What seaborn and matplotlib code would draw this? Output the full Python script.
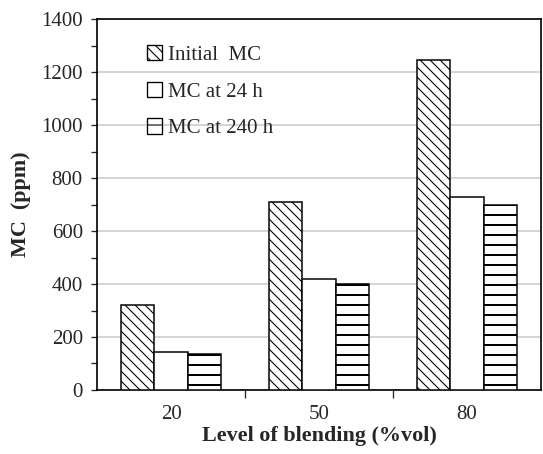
import matplotlib
matplotlib.use("Agg")
import matplotlib.pyplot as plt
from matplotlib.patches import Patch
from matplotlib.ticker import MultipleLocator, FixedLocator
import seaborn as sns
import pandas as pd

blending = ["20", "50", "80"]
initial_mc = [320, 710, 1245]
mc_24h = [145, 420, 730]
mc_240h = [135, 400, 700]
series = ["Initial  MC", "MC at 24 h", "MC at 240 h"]

df = pd.DataFrame({
    "blend": blending * 3,
    "mc": initial_mc + mc_24h + mc_240h,
    "series": [series[0]] * 3 + [series[1]] * 3 + [series[2]] * 3,
})

sns.set_style("white")
plt.rcParams["font.family"] = ["Liberation Serif", "DejaVu Serif"]
plt.rcParams["hatch.linewidth"] = 0.65

# dpi 120 so the hatch spacing comes out close to the original
DPI = 120
fig = plt.figure(figsize=(543 / DPI, 454 / DPI), dpi=DPI)
ax = fig.add_axes([0.1786, 0.141, 0.818, 0.817])

sns.barplot(data=df, x="blend", y="mc", hue="series", order=blending,
            hue_order=series, palette=["white"] * 3, edgecolor="black",
            linewidth=0.9, width=0.68, legend=False, ax=ax, zorder=3)

hatches = ["\\\\\\\\", "", "--"]
for i, bar in enumerate(ax.patches[:9]):
    k = i // 3
    bar.set_hatch(hatches[k])
    if k == 2 and hasattr(bar, "set_hatch_linewidth"):
        bar.set_hatch_linewidth(1.2)

handles = []
for k in range(3):
    h = Patch(facecolor="white", edgecolor="black", hatch=hatches[k], linewidth=0.8)
    handles.append(h)
ax.legend(handles, series, loc="upper left", bbox_to_anchor=(0.07, 0.98),
          frameon=False, fontsize=12.5, handlelength=0.75, handleheight=0.75,
          handletextpad=0.25, labelspacing=0.8)

ax.set_xlim(-0.5, 2.5)
ax.set_ylim(0, 1400)
ax.yaxis.set_major_locator(MultipleLocator(200))
ax.yaxis.set_minor_locator(MultipleLocator(100))
ax.xaxis.set_minor_locator(FixedLocator([0.5, 1.5]))
ax.tick_params(axis="y", which="both", direction="out", left=True, length=3.5,
               width=0.8, labelsize=12.5, pad=5)
ax.tick_params(axis="x", which="major", length=0, labelsize=12.5, pad=9)
ax.tick_params(axis="x", which="minor", bottom=True, direction="out", length=4.5, width=0.8)
ax.grid(axis="y", which="major", color="#c8c8c8", linewidth=0.9, zorder=0)
ax.set_axisbelow(True)

for s in ax.spines.values():
    s.set_color("black")
    s.set_linewidth(1.0)

ax.set_xlabel("Level of blending (%vol)", fontsize=13.3, fontweight="bold", labelpad=1)
ax.set_ylabel("MC  (ppm)", fontsize=13.3, fontweight="bold", labelpad=6)

fig.savefig("out.png", dpi=DPI)
